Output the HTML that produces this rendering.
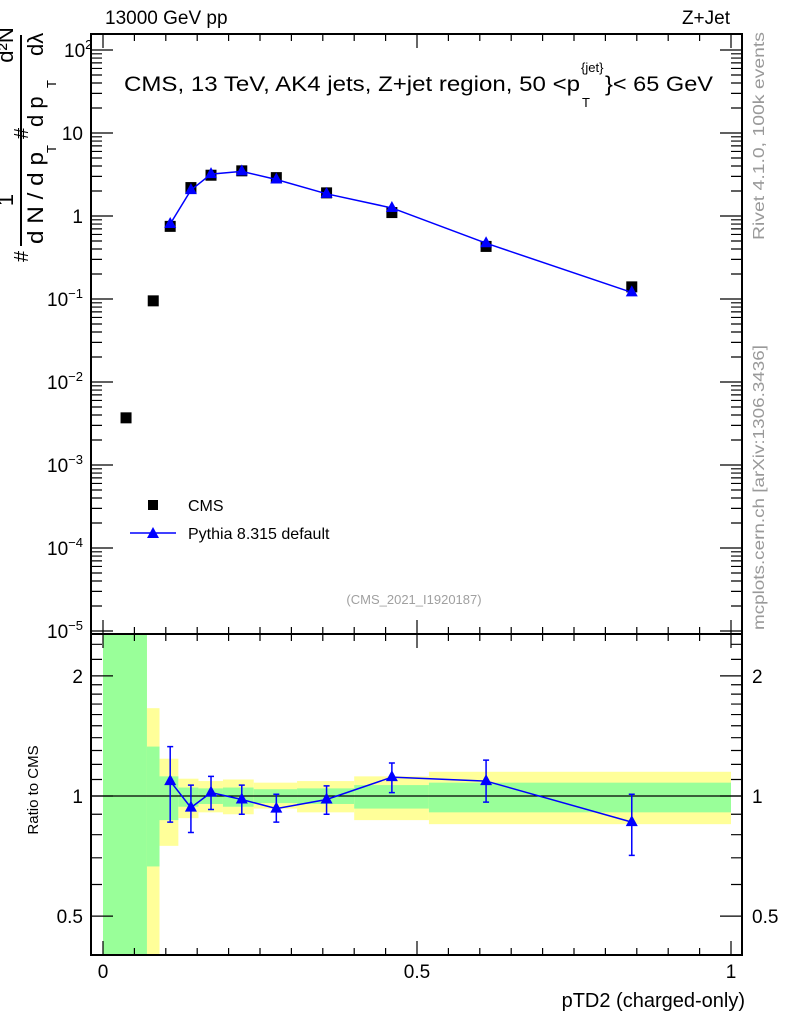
<!DOCTYPE html>
<html><head><meta charset="utf-8"><style>
body{margin:0;background:#fff;font-family:"Liberation Sans",sans-serif}
svg text{font-family:"Liberation Sans",sans-serif}
</style></head><body>
<svg id="c" width="786" height="1024" xmlns="http://www.w3.org/2000/svg">
<g id="bands"></g><g id="marks"></g><g id="axes"></g>
<text x="105" y="24" font-size="19">13000 GeV pp</text>
<text x="730" y="24" font-size="19" text-anchor="end">Z+Jet</text>
<g>
<text x="124" y="91" font-size="21" textLength="456" lengthAdjust="spacingAndGlyphs">CMS, 13 TeV, AK4 jets, Z+jet region, 50 &lt;p</text>
<text x="581" y="72" font-size="13">{jet}</text>
<text x="582" y="107" font-size="13">T</text>
<text x="605" y="91" font-size="21" textLength="108" lengthAdjust="spacingAndGlyphs">}&lt; 65 GeV</text>
</g>
<text x="414" y="604" font-size="13" fill="#a0a0a0" text-anchor="middle">(CMS_2021_I1920187)</text>
<text transform="translate(764,240) rotate(-90)" font-size="16" fill="#999" textLength="208" lengthAdjust="spacingAndGlyphs">Rivet 4.1.0,  100k events</text>
<text transform="translate(764,630) rotate(-90)" font-size="16" fill="#999" textLength="285" lengthAdjust="spacingAndGlyphs">mcplots.cern.ch [arXiv:1306.3436]</text>
<text transform="translate(38,790) rotate(-90)" font-size="15" text-anchor="middle">Ratio to CMS</text>
<text x="745" y="1007" font-size="20" text-anchor="end">pTD2 (charged-only)</text>
<g font-size="22">
<text transform="translate(28,262) rotate(-90)" font-size="20">#</text>
<text transform="translate(13,200) rotate(-90)" text-anchor="middle">1</text>
<line x1="21" y1="35" x2="21" y2="246" stroke="#000" stroke-width="2"/>
<text transform="translate(43,244) rotate(-90)" textLength="92" lengthAdjust="spacingAndGlyphs">d N / d p</text>
<text transform="translate(56,153) rotate(-90)" font-size="13">T</text>
<text transform="translate(28,139) rotate(-90)" font-size="20">#</text>
<text transform="translate(43,127) rotate(-90)">d p</text>
<text transform="translate(56,88) rotate(-90)" font-size="13">T</text>
<text transform="translate(43,56) rotate(-90)">d&#955;</text>
<text transform="translate(13,45) rotate(-90)" text-anchor="middle">d²N</text>
</g>
<g>
<rect x="148" y="500" width="10" height="10" fill="#000"/>
<text x="188" y="511" font-size="16">CMS</text>
<line x1="130" y1="533" x2="176" y2="533" stroke="#00f" stroke-width="1.5"/>
<polygon points="153,527 159,538 147,538" fill="#00f"/>
<text x="188" y="539" font-size="16">Pythia 8.315 default</text>
</g>
</svg>
<script>
const xs=[0.0367,0.08,0.107,0.14,0.172,0.221,0.276,0.356,0.46,0.61,0.842];
const cmsVals=[0.0037,0.095,0.75,2.2,3.1,3.5,2.9,1.9,1.1,0.43,0.14];
const mcX=[0.107,0.14,0.172,0.221,0.276,0.356,0.46,0.61,0.842];
const mcVals=[0.8,2.05,3.2,3.45,2.75,1.85,1.25,0.47,0.12];
const ratioVals=[1.09,0.935,1.02,0.98,0.93,0.98,1.115,1.09,0.86];
const ratioHi=[1.33,1.065,1.12,1.065,1.01,1.06,1.21,1.23,1.01];
const ratioLo=[0.86,0.81,0.925,0.9,0.86,0.9,1.02,0.965,0.71];
const binEdges=[0,0.07,0.09,0.12,0.152,0.191,0.24,0.309,0.4,0.519,1];
const yelHi=[3,1.66,1.24,1.105,1.09,1.10,1.08,1.09,1.12,1.15];
const grnHi=[3,1.33,1.12,1.05,1.045,1.05,1.04,1.045,1.065,1.08];
const grnLo=[0.3,0.666,0.87,0.94,0.955,0.94,0.96,0.955,0.93,0.91];
const yelLo=[0.3,0.3,0.75,0.88,0.91,0.9,0.93,0.91,0.87,0.85];
const L=91,R=742,T=34,M=634,B=955;
const X=v=>103+628*v;
const Y=v=>216-83*Math.log10(v);
const RY=r=>Math.min(B,Math.max(M,796-399*Math.log10(r)));
const NS='http://www.w3.org/2000/svg';
function mk(p,t,a){const e=document.createElementNS(NS,t);for(const k in a)e.setAttribute(k,a[k]);document.getElementById(p).appendChild(e);return e;}
for(let i=0;i<binEdges.length-1;i++){
 const x0=X(binEdges[i]),w=X(binEdges[i+1])-x0;
 let e=mk('bands','rect',{x:x0,y:RY(yelHi[i]),width:w,height:RY(yelLo[i])-RY(yelHi[i]),fill:'#ffff99'});
 
 
 e=mk('bands','rect',{x:x0,y:RY(grnHi[i]),width:w,height:RY(grnLo[i])-RY(grnHi[i]),fill:'#99ff99'});
 
 
}
mk('marks','line',{x1:L,x2:R,y1:RY(1),y2:RY(1),stroke:'#000','stroke-width':1.2});
cmsVals.forEach((v,i)=>{const e=mk('marks','rect',{x:X(xs[i])-5.5,y:Y(v)-5.5,width:11,height:11,fill:'#000'});
 
 });
let pts=mcX.map((x,i)=>X(x)+','+Y(mcVals[i])).join(' ');
let pl=mk('marks','polyline',{points:pts,fill:'none',stroke:'#00f','stroke-width':1.5});


function tri(cx,cy){return `${cx},${cy-7} ${cx+6},${cy+4} ${cx-6},${cy+4}`;}
mcX.forEach((x,i)=>{const e=mk('marks','polygon',{points:tri(X(x),Y(mcVals[i])),fill:'#00f'});
 
 });
pts=mcX.map((x,i)=>X(x)+','+RY(ratioVals[i])).join(' ');
pl=mk('marks','polyline',{points:pts,fill:'none',stroke:'#00f','stroke-width':1.5});


mcX.forEach((x,i)=>{const cx=X(x);
 const eb=mk('marks','path',{d:`M${cx},${RY(ratioHi[i])}V${RY(ratioLo[i])}M${cx-3},${RY(ratioHi[i])}h6M${cx-3},${RY(ratioLo[i])}h6`,stroke:'#00f','stroke-width':1.5,fill:'none'});
 
 
 const e=mk('marks','polygon',{points:tri(cx,RY(ratioVals[i])),fill:'#00f'});
 
 });
let f=mk('axes','rect',{x:L,y:T,width:R-L,height:M-T,fill:'none',stroke:'#000','stroke-width':2});

f=mk('axes','rect',{x:L,y:M,width:R-L,height:B-M,fill:'none',stroke:'#000','stroke-width':2});

let d='';
for(let k=0;k<=20;k++){const x=X(k*0.05);const len=k%10==0?14:7;
 d+=`M${x},${T}v${len}M${x},${M}v-${len}M${x},${M}v${len}M${x},${B}v-${len}`;}
for(let e=-5;e<=2;e++){for(let m=1;m<10;m++){const v=m*Math.pow(10,e);const y=Y(v);if(y<T||y>M)continue;const len=m==1?22:11;
 d+=`M${L},${y}h${len}M${R},${y}h-${len}`;}}
[0.4,0.5,0.6,0.7,0.8,0.9,1,1.1,1.2,1.3,1.4,1.5,1.6,1.7,1.8,1.9,2,2.2,2.4].forEach(r=>{const y=RY(r);if(y<=M||y>=B)return;const len=(r==0.5||r==1||r==2)?22:11;
 d+=`M${L},${y}h${len}M${R},${y}h-${len}`;});
mk('axes','path',{d:d,stroke:'#000','stroke-width':1.2,fill:'none'});
const ylab=[['10','2',2],['10','',1],['1','',0],['10','−1',-1],['10','−2',-2],['10','−3',-3],['10','−4',-4],['10','−5',-5]];
ylab.forEach(([b,s,e])=>{const t=mk('axes','text',{x:s?70:83,y:Y(Math.pow(10,e))+7,'font-size':19,'text-anchor':'end'});
 t.textContent=b; if(s){const sp=document.createElementNS(NS,'tspan');sp.setAttribute('font-size','13');sp.setAttribute('dy','-8');sp.textContent=s;t.appendChild(sp);t.setAttribute('text-anchor','start');t.setAttribute('x',s.length>1?47:64);}
 });
[['2',2],['1',1],['0.5',0.5]].forEach(([s,r])=>{[83,752].forEach((x,j)=>{const t=mk('axes','text',{x:x,y:RY(r)+7,'font-size':19,'text-anchor':j?'start':'end'});t.textContent=s;
 });});
[['0',0],['0.5',0.5],['1',1]].forEach(([s,v])=>{const t=mk('axes','text',{x:X(v),y:978,'font-size':19,'text-anchor':'middle'});t.textContent=s;
 });
</script>
</body></html>
